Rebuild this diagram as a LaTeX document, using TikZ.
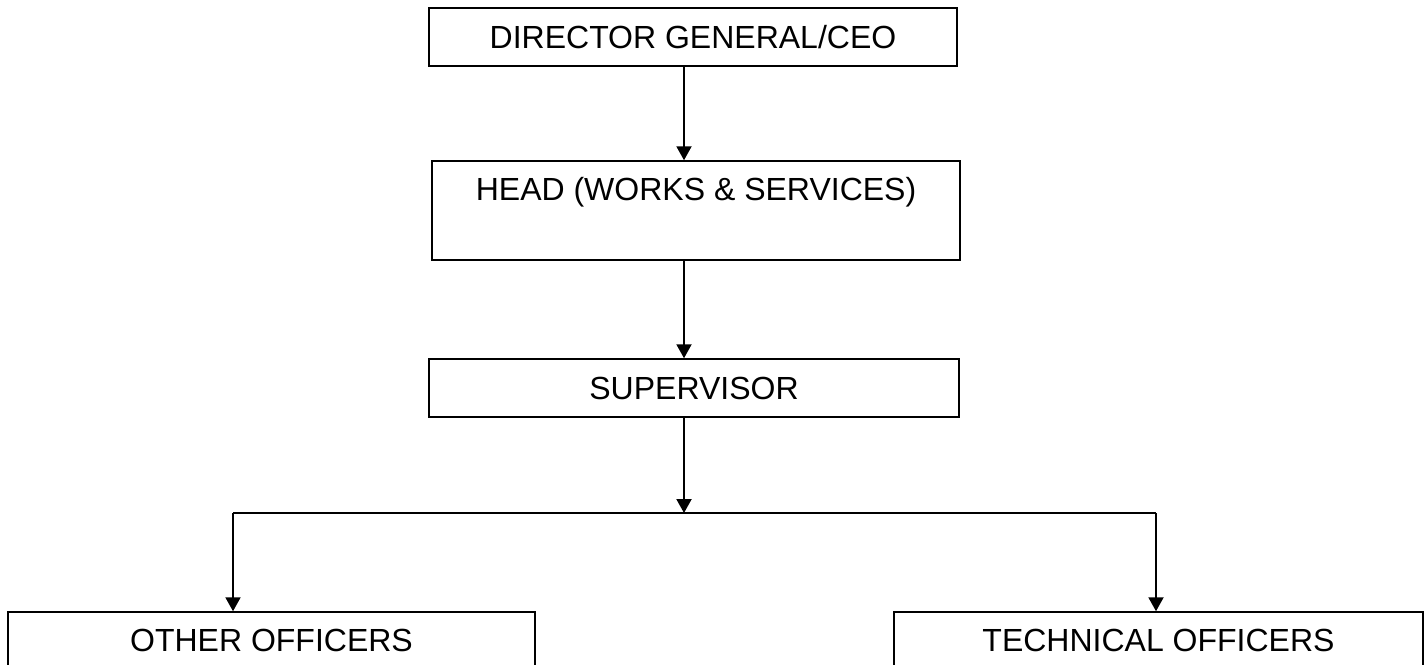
\documentclass[tikz,border=0pt]{standalone}
\usepackage{fontspec}
\setmainfont{Liberation Sans}
\usetikzlibrary{arrows.meta,calc}

\tikzset{
  post/.style={draw=black, line width=1.5pt, rectangle, inner sep=0pt,
               font=\fontsize{32}{38}\selectfont},
  arr/.style={line width=2pt, -{Triangle[width=15pt,length=14pt]}},
  link/.style={line width=2pt}
}

\begin{document}
\begin{tikzpicture}[x=1pt,y=-1pt]
  \useasboundingbox (0,0) rectangle (1426,664);
  \clip (0,0) rectangle (1426,664);

  % posts
  \node[post, minimum width=528pt, minimum height=58pt] (dir) at (693,37) {DIRECTOR GENERAL/CEO};
  \node[post, minimum width=528pt, minimum height=99pt] (head) at (696,210.5) {};
  \node[font=\fontsize{32}{38}\selectfont] (headtxt) at ($(head.north)+(0,32)$) {HEAD (WORKS \& SERVICES)};
  \node[post, minimum width=530pt, minimum height=58pt] (sup) at (694,388) {SUPERVISOR};
  \node[post, minimum width=527pt, minimum height=56pt] (other) at (271.5,640) {OTHER OFFICERS};
  \node[post, minimum width=529pt, minimum height=56pt] (tech) at (1158.5,640) {TECHNICAL OFFICERS};

  % reporting lines
  \coordinate (spine) at (684,0);
  \coordinate (join) at (684,513);
  \coordinate (lb) at (233,513);
  \coordinate (rb) at (1156,513);

  \draw[arr] (dir.south -| spine) -- (head.north -| spine);
  \draw[arr] (head.south -| spine) -- (sup.north -| spine);
  \draw[arr] (sup.south -| spine) -- (join);
  \draw[link] (lb) -- (rb);
  \draw[arr] (lb) -- (lb |- other.north);
  \draw[arr] (rb) -- (rb |- tech.north);
\end{tikzpicture}
\end{document}
